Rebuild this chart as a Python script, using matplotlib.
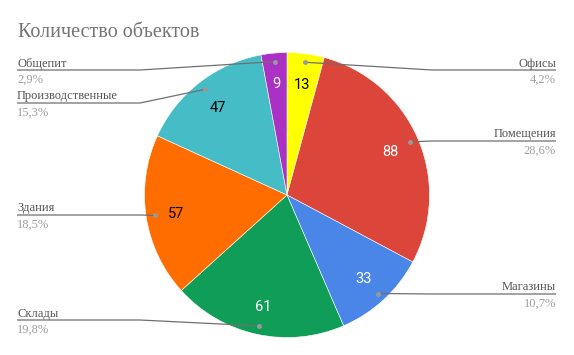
import numpy as np
import matplotlib
matplotlib.use("Agg")
import matplotlib.pyplot as plt

# ── Data ──────────────────────────────────────────────────────────────────────
categories = ["Офисы", "Помещения", "Магазины", "Склады", "Здания",
              "Производственные", "Общепит"]
counts = [13, 88, 33, 61, 57, 47, 9]
colors = ["#ffff00", "#dc4539", "#4a86e8", "#109d58", "#ff6d01",
          "#46bdc6", "#ab30c4"]
value_colors = ["black", "white", "white", "white", "black", "black", "white"]

# ── Layout (pixels, y measured from top) ──────────────────────────────────────
W, H = 574, 355
CX, CY, R = 287, 195, 142.5
label_line_y = [70, 141, 294, 320, 215, 103, 70]
RIGHT_EDGE, RIGHT_ELBOW = 556, 432
LEFT_EDGE, LEFT_ELBOW = 17, 140

C_LINE = "#6f6f6f"
C_NAME = "#555555"
C_PCT = "#9e9e9e"
C_DOT = "#999999"

fig = plt.figure(figsize=(W / 100, H / 100), dpi=100)
ax = fig.add_axes([0, 0, 1, 1])

cy = H - CY
total = sum(counts)
wedges, _, autotexts = ax.pie(
    counts, colors=colors, center=(CX, cy), radius=R,
    startangle=90, counterclock=False,
    autopct=lambda p: f"{p * total / 100:.0f}", pctdistance=0.79,
    wedgeprops=dict(edgecolor="white", linewidth=0.4),
    textprops=dict(family="Roboto", fontsize=10.5),
)
for t, c in zip(autotexts, value_colors):
    t.set_color(c)
    t.set_va("center_baseline")

# pie() sets its own limits, so fix the pixel frame afterwards
ax.set_xlim(0, W)
ax.set_ylim(0, H)
ax.set_aspect("equal")
ax.axis("off")

# leader lines with dot markers
for w, name, n, ly in zip(wedges, categories, counts, label_line_y):
    mid = np.deg2rad((w.theta1 + w.theta2) / 2)
    dx, dy = CX + 0.94 * R * np.cos(mid), cy + 0.94 * R * np.sin(mid)
    ly = H - ly
    right = dx > CX
    if right:
        elbow, edge, ha = max(RIGHT_ELBOW, dx), RIGHT_EDGE, "right"
    else:
        elbow, edge, ha = min(LEFT_ELBOW, dx), LEFT_EDGE, "left"
    ax.plot([dx, elbow, edge], [dy, ly, ly], color=C_LINE, lw=0.9,
            solid_capstyle="butt")
    ax.plot(dx, dy, "o", ms=3.5, color=C_DOT, mec="none")
    pct = f"{n / total * 100:.1f}%".replace(".", ",")
    ax.text(edge, ly + 3.5, name, ha=ha, va="baseline",
            family="Liberation Serif", fontsize=9, color=C_NAME)
    ax.text(edge, ly - 13, pct, ha=ha, va="baseline",
            family="Liberation Serif", fontsize=9, color=C_PCT)

fig.text(18 / W, 1 - 37 / H, "Количество объектов", ha="left", va="baseline",
         family="Liberation Serif", fontsize=14.5, color="#757575")

fig.savefig("out.png", dpi=100, facecolor="white")
